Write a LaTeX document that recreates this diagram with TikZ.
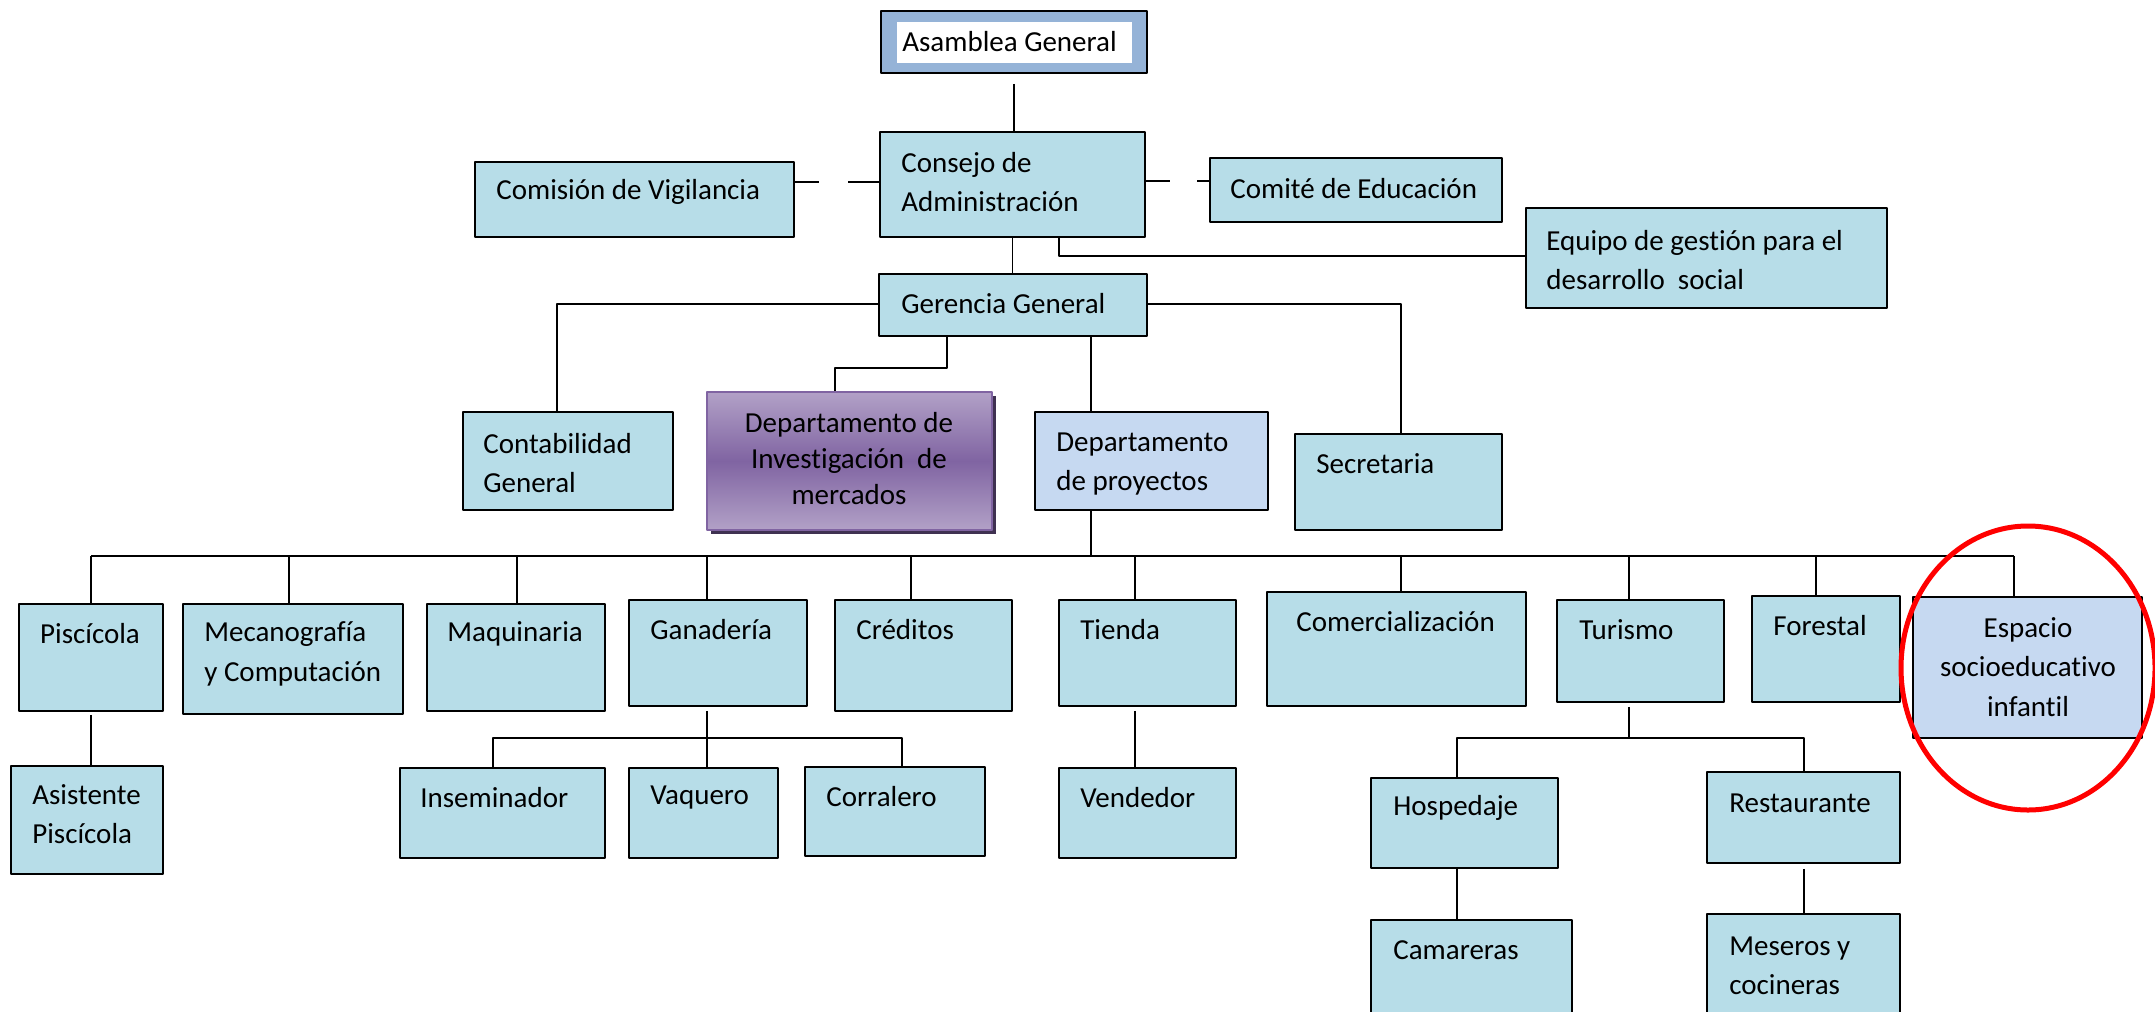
\documentclass[tikz,border=0pt]{standalone}
\usepackage{fontspec}
\setmainfont{Carlito}[Ligatures={NoCommon,NoRare}]
\usetikzlibrary{fit,shadows}
\definecolor{aqua}{HTML}{B7DDE8}
\definecolor{lila}{HTML}{C6D9F1}
\definecolor{marco}{HTML}{95B3D7}
\definecolor{moradoC}{HTML}{B2A1C7}
\definecolor{moradoO}{HTML}{8064A2}
\definecolor{sombra}{HTML}{3F3151}
\begin{document}
\begin{tikzpicture}[x=0.02cm, y=-0.02cm, line join=round,
	font=\fontsize{16.5}{22.5}\selectfont,
	caja/.style={draw, line width=1.1pt, fill=aqua, inner sep=0pt},
	txt/.style={inner sep=0pt, align=left, anchor=west},
	lin/.style={line width=1.1pt}]
	\def\yb{556}  % linea de departamentos
	\def\ys{738}  % lineas de segundo nivel
	\useasboundingbox (0,0) rectangle (2155,1011);
	% cajas
	\node[caja, fill=marco, fit={(881,11) (1147,73)}] (asamblea) {};
	\node[fill=white, inner sep=0pt, fit={(897,22) (1132,63)}] (asamblea-in) {};
	\node[caja, fit={(880,132) (1145,237)}] (consejo) {};
	\node[caja, fit={(475,162) (794,237)}] (comision) {};
	\node[caja, fit={(1210,158) (1502,222)}] (comite) {};
	\node[caja, fit={(1526,208) (1887,308)}] (equipo) {};
	\node[caja, fit={(879,274) (1147,336)}] (gerencia) {};
	\node[caja, fit={(463,412) (673,510)}] (contab) {};
	\node[caja, draw=moradoO, top color=moradoC, bottom color=moradoC, middle color=moradoO,
		drop shadow={shadow xshift=0.07cm, shadow yshift=-0.07cm, fill=sombra, opacity=1},
		fit={(707,392) (992,530)}] (invest) {};
	\node[caja, fill=lila, fit={(1035,412) (1268,510)}] (dproy) {};
	\node[caja, fit={(1295,434) (1502,530)}] (secre) {};
	\node[caja, fit={(19,604) (163,711)}] (pisc) {};
	\node[caja, fit={(183,604) (403,714)}] (meca) {};
	\node[caja, fit={(427,604) (605,711)}] (maqui) {};
	\node[caja, fit={(629,600) (807,706)}] (gana) {};
	\node[caja, fit={(835,600) (1012,711)}] (cred) {};
	\node[caja, fit={(1059,600) (1236,706)}] (tienda) {};
	\node[caja, fit={(1267,592) (1526,706)}] (comer) {};
	\node[caja, fit={(1557,600) (1724,702)}] (turis) {};
	\node[caja, fit={(1752,596) (1900,702)}] (fores) {};
	\node[caja, fill=lila, fit={(1913,597) (2142,738)}] (espacio) {};
	\node[caja, fit={(11,766) (163,874)}] (asis) {};
	\node[caja, fit={(400,768) (605,858)}] (insem) {};
	\node[caja, fit={(629,768) (778,858)}] (vaque) {};
	\node[caja, fit={(805,767) (985,856)}] (corra) {};
	\node[caja, fit={(1059,768) (1236,858)}] (vende) {};
	\node[caja, fit={(1371,778) (1558,868)}] (hosp) {};
	\node[caja, fit={(1707,772) (1900,863)}] (resta) {};
	\node[caja, fit={(1371,920) (1572,1040)}] (camar) {};
	\node[caja, fit={(1707,914) (1900,1040)}] (meser) {};
	% textos
	\node[txt] (t-asamblea) at (902,42) {Asamblea General};
	\node[txt] (t-consejo) at (901,182) {Consejo de\\Administración};
	\node[txt] (t-comision) at (496,192) {Comisión de Vigilancia};
	\node[txt] (t-comite) at (1230,189) {Comité de Educación};
	\node[txt] (t-equipo) at (1546,260) {Equipo de gestión para el\\desarrollo\ \ social};
	\node[txt] (t-gerencia) at (901,304) {Gerencia General};
	\node[txt] (t-contab) at (483,463) {Contabilidad\\General};
	\node[txt, align=center, anchor=center, font=\fontsize{16.5}{20.5}\selectfont] (t-invest) at (849,459)
		{Departamento de\\Investigación\ \ de\\mercados};
	\node[txt] (t-dproy) at (1056,464) {Departamento\\de proyectos};
	\node[txt] (t-secre) at (1316,464) {Secretaria};
	\node[txt, anchor=center] (t-pisc) at (90,634) {Piscícola};
	\node[txt] (t-meca) at (204,654) {Mecanografía\\y Computación};
	\node[txt] (t-maqui) at (447,634) {Maquinaria};
	\node[txt] (t-gana) at (650,630) {Ganadería};
	\node[txt] (t-cred) at (856,630) {Créditos};
	\node[txt] (t-tienda) at (1080,630) {Tienda};
	\node[txt] (t-comer) at (1296,622) {Comercialización};
	\node[txt] (t-turis) at (1579,630) {Turismo};
	\node[txt] (t-fores) at (1773,626) {Forestal};
	\node[txt, align=center, anchor=center] (t-espacio) at (2028,667) {Espacio\\socioeducativo\\infantil};
	\node[txt] (t-asis) at (32,814) {Asistente\\Piscícola};
	\node[txt] (t-insem) at (420,798) {Inseminador};
	\node[txt] (t-vaque) at (650,798) {Vaquero};
	\node[txt] (t-corra) at (826,797) {Corralero};
	\node[txt] (t-vende) at (1080,798) {Vendedor};
	\node[txt] (t-hosp) at (1393,808) {Hospedaje};
	\node[txt] (t-resta) at (1729,803) {Restaurante};
	\node[txt] (t-camar) at (1393,950) {Camareras};
	\node[txt] (t-meser) at (1729,966) {Meseros y\\cocineras};
	% conexiones
	\draw[lin, shorten <=0.2cm] (asamblea.south) -- (asamblea.south |- consejo.north);
	\coordinate (cv1) at (819,182); \coordinate (cv2) at (848,182);
	\draw[lin] (comision.east |- cv1) -- (cv1);
	\draw[lin] (cv2) -- (consejo.west |- cv2);
	\coordinate (ce1) at (1170,181); \coordinate (ce2) at (1197,181);
	\draw[lin] (consejo.east |- ce1) -- (ce1);
	\draw[lin] (ce2) -- (comite.west |- ce2);
	\coordinate (eq) at (1059,256);
	\draw[lin] (consejo.south -| eq) -- (eq) -- (equipo.west |- eq);
	\draw[lin] (consejo.south) -- (consejo.south |- gerencia.north);
	\coordinate (gc) at (557,304);
	\draw[lin] (gerencia.west |- gc) -- (gc) -- (gc |- contab.north);
	\coordinate (gi1) at (947,368); \coordinate (gi2) at (835,368);
	\draw[lin] (gerencia.south -| gi1) -- (gi1) -- (gi2) -- (gi2 |- invest.north);
	\coordinate (gp) at (1091,\yb);
	\draw[lin] (gerencia.south -| gp) -- (gp |- dproy.north);
	\draw[lin] (dproy.south -| gp) -- (gp);
	\coordinate (gs) at (1401,304);
	\draw[lin] (gerencia.east |- gs) -- (gs) -- (gs |- secre.north);
	\coordinate (bus1) at (91,\yb); \coordinate (bus2) at (2014,\yb);
	\draw[lin] (bus1) -- (bus2);
	\foreach \n/\x in {pisc/91, meca/289, maqui/517, gana/707, cred/911, tienda/1135,
		comer/1401, turis/1629, fores/1816, espacio/2014}
		\draw[lin] (\x,0 |- bus1) -- (\x,0 |- \n.north);
	\draw[lin, shorten <=0.06cm] (pisc.south) -- (pisc.south |- asis.north);
	% ganaderia
	\coordinate (gb) at (707,\ys); \coordinate (gb1) at (493,\ys); \coordinate (gb2) at (902,\ys);
	\draw[lin, shorten <=0.08cm] (gana.south -| gb) -- (gb);
	\draw[lin] (gb1 |- insem.north) -- (gb1) -- (gb2) -- (gb2 |- corra.north);
	\draw[lin] (gb) -- (gb |- vaque.north);
	\draw[lin, shorten <=0.08cm] (1135,0 |- tienda.south) -- (1135,0 |- vende.north);
	% turismo
	\coordinate (tb) at (1629,\ys); \coordinate (tb1) at (1457,\ys); \coordinate (tb2) at (1804,\ys);
	\draw[lin, shorten <=0.08cm] (turis.south -| tb) -- (tb);
	\draw[lin] (tb1 |- hosp.north) -- (tb1) -- (tb2) -- (tb2 |- resta.north);
	\draw[lin] (tb1 |- hosp.south) -- (tb1 |- camar.north);
	\draw[lin, shorten <=0.1cm] (tb2 |- resta.south) -- (tb2 |- meser.north);
	% circulo rojo
	\draw[red, line width=0.1cm] (2028,668) ellipse [x radius=127, y radius=142];
\end{tikzpicture}
\end{document}
